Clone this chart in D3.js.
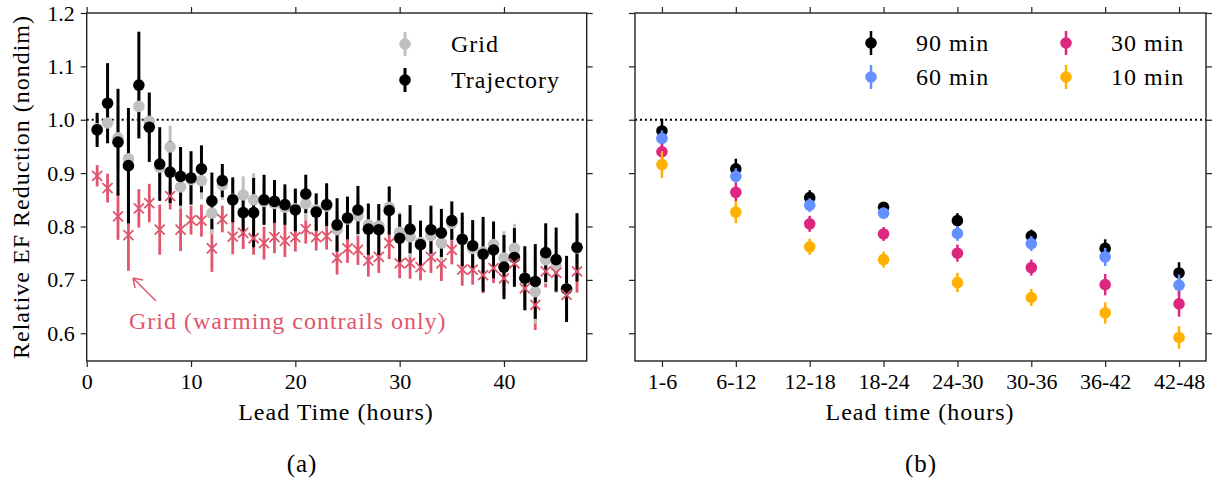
<!DOCTYPE html>
<html>
<head>
<meta charset="utf-8">
<script src="https://cdn.jsdelivr.net/npm/d3@7"></script>
<style>
  html, body { margin: 0; padding: 0; background: #fff; }
  svg text { font-family: 'Liberation Serif', 'DejaVu Serif', serif; }
</style>
</head>
<body>
<svg id="chart" width="1215" height="481" font-family="Liberation Serif, serif"></svg>
<script>
// ---- panel (a): lead time series ----
const leadTime = [1, 2, 3, 4, 5, 6, 7, 8, 9, 10, 11, 12, 13, 14, 15, 16, 17, 18, 19, 20, 21, 22, 23, 24,
  25, 26, 27, 28, 29, 30, 31, 32, 33, 34, 35, 36, 37, 38, 39, 40, 41, 42, 43, 44, 45, 46, 47];

const gridMean = [0.983, 0.994, 0.966, 0.927, 1.025, 0.997, 0.911, 0.949, 0.874, 0.888, 0.886, 0.825,
  0.878, 0.851, 0.859, 0.850, 0.847, 0.843, 0.836, 0.833, 0.843, 0.831, 0.838, 0.794, 0.814, 0.820,
  0.803, 0.801, 0.836, 0.789, 0.781, 0.770, 0.783, 0.769, 0.806, 0.776, 0.759, 0.752, 0.766, 0.741,
  0.759, 0.703, 0.678, 0.738, 0.726, 0.683, 0.760];
const gridErr = [0.028, 0.038, 0.060, 0.070, 0.056, 0.045, 0.050, 0.040, 0.040, 0.040, 0.035, 0.040,
  0.028, 0.035, 0.035, 0.050, 0.040, 0.035, 0.032, 0.035, 0.032, 0.030, 0.035, 0.042, 0.035, 0.038,
  0.040, 0.040, 0.038, 0.038, 0.038, 0.038, 0.038, 0.038, 0.032, 0.042, 0.040, 0.055, 0.045, 0.050,
  0.046, 0.050, 0.060, 0.046, 0.050, 0.052, 0.053];

const trajMean = [0.981, 1.031, 0.958, 0.914, 1.065, 0.986, 0.917, 0.902, 0.894, 0.891, 0.908, 0.848,
  0.886, 0.850, 0.826, 0.826, 0.850, 0.847, 0.841, 0.831, 0.861, 0.827, 0.841, 0.803, 0.816, 0.831,
  0.795, 0.794, 0.830, 0.778, 0.795, 0.766, 0.794, 0.788, 0.811, 0.776, 0.764, 0.748, 0.756, 0.724,
  0.742, 0.703, 0.697, 0.751, 0.738, 0.683, 0.761];
const trajErr = [0.032, 0.075, 0.100, 0.108, 0.100, 0.065, 0.069, 0.058, 0.055, 0.050, 0.044, 0.053,
  0.031, 0.042, 0.042, 0.065, 0.047, 0.040, 0.038, 0.040, 0.036, 0.035, 0.040, 0.050, 0.040, 0.045,
  0.048, 0.048, 0.045, 0.045, 0.045, 0.045, 0.045, 0.045, 0.036, 0.050, 0.048, 0.070, 0.053, 0.060,
  0.055, 0.060, 0.070, 0.055, 0.060, 0.062, 0.064];

const warmMean = [0.895, 0.872, 0.819, 0.784, 0.834, 0.844, 0.794, 0.857, 0.794, 0.812, 0.811, 0.759,
  0.814, 0.781, 0.788, 0.778, 0.769, 0.780, 0.773, 0.780, 0.795, 0.780, 0.782, 0.741, 0.759, 0.756,
  0.736, 0.743, 0.769, 0.731, 0.732, 0.724, 0.743, 0.731, 0.756, 0.719, 0.719, 0.709, 0.722, 0.703,
  0.731, 0.684, 0.653, 0.716, 0.713, 0.672, 0.716];
const warmErr = [0.020, 0.027, 0.044, 0.067, 0.036, 0.036, 0.047, 0.025, 0.040, 0.027, 0.030, 0.044,
  0.025, 0.033, 0.030, 0.031, 0.031, 0.030, 0.030, 0.027, 0.027, 0.025, 0.025, 0.031, 0.027, 0.028,
  0.030, 0.030, 0.030, 0.028, 0.030, 0.025, 0.030, 0.033, 0.027, 0.030, 0.028, 0.034, 0.028, 0.030,
  0.035, 0.040, 0.047, 0.030, 0.036, 0.040, 0.040];

// ---- panel (b): binned by lead time, one series per time window ----
const bins = ['1-6', '6-12', '12-18', '18-24', '24-30', '30-36', '36-42', '42-48'];
const win90 = [0.979, 0.908, 0.854, 0.836, 0.811, 0.782, 0.759, 0.713];
const win90Err = [0.023, 0.019, 0.014, 0.008, 0.014, 0.012, 0.017, 0.020];
const win60 = [0.965, 0.894, 0.840, 0.825, 0.787, 0.768, 0.743, 0.690];
const win60Err = [0.015, 0.015, 0.013, 0.010, 0.014, 0.014, 0.017, 0.020];
const win30 = [0.940, 0.864, 0.805, 0.786, 0.750, 0.723, 0.691, 0.655];
const win30Err = [0.015, 0.017, 0.015, 0.013, 0.016, 0.015, 0.020, 0.024];
const win10 = [0.916, 0.827, 0.762, 0.738, 0.695, 0.667, 0.638, 0.592];
const win10Err = [0.025, 0.021, 0.015, 0.015, 0.018, 0.016, 0.020, 0.021];

const yTicks = [0.6, 0.7, 0.8, 0.9, 1.0, 1.1, 1.2];
const xTicksA = [0, 10, 20, 30, 40];

const RED = '#e0566c', GRAY = '#c0c0c0';
const FONT = 'Liberation Serif, DejaVu Serif, serif';
const winSeries = [
  { name: '90 min', mean: win90, err: win90Err, color: '#000000' },
  { name: '60 min', mean: win60, err: win60Err, color: '#648fff' },
  { name: '30 min', mean: win30, err: win30Err, color: '#dc267f' },
  { name: '10 min', mean: win10, err: win10Err, color: '#ffb000' }
];

const svg = d3.select('#chart');
const plotTop = 13, plotBottom = 361;
const y = d3.scaleLinear().domain([0.548, 1.2]).range([plotBottom, plotTop]);
const xA = d3.scaleLinear().domain([0, 47.93]).range([86.7, 586.7]);
const xB = d3.scalePoint().domain(bins).range([635, 1206]).padding(0.365);

function styleAxis(g, showText) {
  g.attr('font-family', FONT);
  g.select('.domain').remove();
  g.selectAll('.tick line').attr('stroke', '#222').attr('stroke-width', 1.2);
  g.selectAll('.tick text')
    .attr('font-family', FONT)
    .attr('font-size', '22px')
    .attr('fill', '#000');
  if (!showText) g.selectAll('.tick text').remove();
}

function label(x, yy, txt, size) {
  return svg.append('text').attr('x', x).attr('y', yy)
    .attr('font-family', FONT).attr('font-size', size + 'px')
    .attr('letter-spacing', '1px').text(txt);
}

function frame(x0, x1) {
  svg.append('rect')
    .attr('x', x0).attr('y', plotTop)
    .attr('width', x1 - x0).attr('height', plotBottom - plotTop)
    .attr('fill', 'none').attr('stroke', '#222').attr('stroke-width', 1.4);
}

// ---------- panel (a) ----------
const gA = svg.append('g');
gA.append('line')
  .attr('x1', xA.range()[0]).attr('x2', xA.range()[1])
  .attr('y1', y(1)).attr('y2', y(1))
  .attr('stroke', '#000').attr('stroke-width', 2).attr('stroke-dasharray', '2,3');

const ptsA = leadTime.map((t, i) => ({
  t, g: gridMean[i], ge: gridErr[i], tr: trajMean[i], te: trajErr[i], w: warmMean[i], we: warmErr[i]
}));

function bars(g, data, xf, vf, ef, color, w) {
  g.selectAll(null).data(data).enter().append('line')
    .attr('x1', xf).attr('x2', xf)
    .attr('y1', d => y(vf(d) + ef(d))).attr('y2', d => y(vf(d) - ef(d)))
    .attr('stroke', color).attr('stroke-width', w);
}

bars(gA, ptsA, d => xA(d.t), d => d.w, d => d.we, RED, 2.8);
bars(gA, ptsA, d => xA(d.t), d => d.g, d => d.ge, GRAY, 3);
bars(gA, ptsA, d => xA(d.t), d => d.tr, d => d.te, '#000', 3);

gA.selectAll(null).data(ptsA).enter().append('circle')
  .attr('cx', d => xA(d.t)).attr('cy', d => y(d.g)).attr('r', 5.8).attr('fill', GRAY);
gA.selectAll(null).data(ptsA).enter().append('circle')
  .attr('cx', d => xA(d.t)).attr('cy', d => y(d.tr)).attr('r', 5.8).attr('fill', '#000');
const xs = 5;
gA.selectAll(null).data(ptsA).enter().append('path')
  .attr('d', d => {
    const cx = xA(d.t), cy = y(d.w);
    return `M${cx - xs},${cy - xs}L${cx + xs},${cy + xs}M${cx - xs},${cy + xs}L${cx + xs},${cy - xs}`;
  })
  .attr('stroke', RED).attr('stroke-width', 1.8).attr('fill', 'none');

frame(xA.range()[0], xA.range()[1]);
svg.append('g').attr('transform', `translate(0,${plotBottom})`)
  .call(d3.axisBottom(xA).tickValues(xTicksA).tickSize(6).tickPadding(6))
  .call(g => styleAxis(g, true));
svg.append('g').attr('transform', `translate(0,${plotTop})`)
  .call(d3.axisTop(xA).tickValues(xTicksA).tickSize(6))
  .call(g => styleAxis(g, false));
svg.append('g').attr('transform', `translate(${xA.range()[0]},0)`)
  .call(d3.axisLeft(y).tickValues(yTicks).tickFormat(d3.format('.1f')).tickSize(6).tickPadding(6))
  .call(g => styleAxis(g, true));
svg.append('g').attr('transform', `translate(${xA.range()[1]},0)`)
  .call(d3.axisRight(y).tickValues(yTicks).tickSize(6))
  .call(g => styleAxis(g, false));

// legend (a)
const legA = [{ label: 'Grid', color: GRAY, y: 44 }, { label: 'Trajectory', color: '#000', y: 80 }];
legA.forEach(l => {
  svg.append('line').attr('x1', 405).attr('x2', 405).attr('y1', l.y - 12).attr('y2', l.y + 12)
    .attr('stroke', l.color).attr('stroke-width', 3);
  svg.append('circle').attr('cx', 405).attr('cy', l.y).attr('r', 5.8).attr('fill', l.color);
  label(451, l.y + 8, l.label, 24);
});

// annotation
label(129, 329, 'Grid (warming contrails only)', 24).attr('fill', RED);
svg.append('path').attr('d', 'M156,301L133,278M133,278L135,288M133,278L143,280')
  .attr('stroke', RED).attr('stroke-width', 1.5).attr('fill', 'none');

// ---------- panel (b) ----------
const gB = svg.append('g');
gB.append('line')
  .attr('x1', xB.range()[0]).attr('x2', xB.range()[1])
  .attr('y1', y(1)).attr('y2', y(1))
  .attr('stroke', '#000').attr('stroke-width', 2).attr('stroke-dasharray', '2,3');

winSeries.forEach(s => {
  const pts = bins.map((b, i) => ({ b, v: s.mean[i], e: s.err[i] }));
  bars(gB, pts, d => xB(d.b), d => d.v, d => d.e, s.color, 2.5);
  gB.selectAll(null).data(pts).enter().append('circle')
    .attr('cx', d => xB(d.b)).attr('cy', d => y(d.v)).attr('r', 5.8).attr('fill', s.color);
});

frame(xB.range()[0], xB.range()[1]);
svg.append('g').attr('transform', `translate(0,${plotBottom})`)
  .call(d3.axisBottom(xB).tickSize(6).tickPadding(6))
  .call(g => styleAxis(g, true));
svg.append('g').attr('transform', `translate(0,${plotTop})`)
  .call(d3.axisTop(xB).tickSize(6))
  .call(g => styleAxis(g, false));
svg.append('g').attr('transform', `translate(${xB.range()[0]},0)`)
  .call(d3.axisLeft(y).tickValues(yTicks).tickSize(6))
  .call(g => styleAxis(g, false));
svg.append('g').attr('transform', `translate(${xB.range()[1]},0)`)
  .call(d3.axisRight(y).tickValues(yTicks).tickSize(6))
  .call(g => styleAxis(g, false));

// legend (b)
const legPos = [[871, 43], [871, 77], [1066, 43], [1066, 77]];
winSeries.forEach((s, i) => {
  const [lx, ly] = legPos[i];
  svg.append('line').attr('x1', lx).attr('x2', lx).attr('y1', ly - 12).attr('y2', ly + 12)
    .attr('stroke', s.color).attr('stroke-width', 2.5);
  svg.append('circle').attr('cx', lx).attr('cy', ly).attr('r', 5.8).attr('fill', s.color);
  label(lx + 45, ly + 8, s.name, 24);
});

// axis titles and panel labels
label(336, 420, 'Lead Time (hours)', 24).attr('text-anchor', 'middle');
label(920, 420, 'Lead time (hours)', 24).attr('text-anchor', 'middle');
label(0, 0, 'Relative EF Reduction (nondim)', 24).attr('text-anchor', 'middle')
  .attr('transform', `translate(29,${(plotTop + plotBottom) / 2}) rotate(-90)`);
label(302, 472, '(a)', 25).attr('text-anchor', 'middle');
label(921, 472, '(b)', 25).attr('text-anchor', 'middle');
</script>
</body>
</html>
